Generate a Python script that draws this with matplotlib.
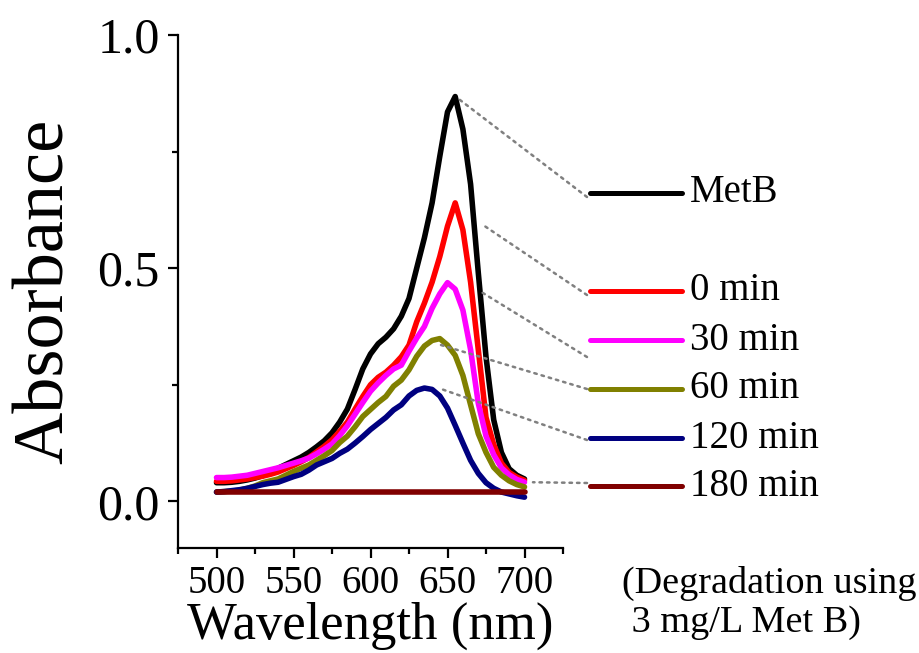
import numpy as np
import matplotlib
matplotlib.use("Agg")
from matplotlib import pyplot as plt
from matplotlib.lines import Line2D
from matplotlib.ticker import MultipleLocator, FormatStrFormatter

plt.rcParams["font.family"] = ["Liberation Serif", "DejaVu Serif"]

# wavelengths (nm) shared by the measured spectra
wavelength = [500, 505, 510, 515, 520, 525, 530, 535, 540, 545,
              550, 555, 560, 565, 570, 575, 580, 585, 590, 595,
              600, 605, 610, 615, 620, 625, 630, 635, 640, 645,
              650, 655, 660, 665, 670, 675, 680, 685, 690, 695, 700]

metb = [0.040, 0.040, 0.041, 0.043, 0.046, 0.050, 0.055, 0.062, 0.071, 0.079,
        0.087, 0.095, 0.105, 0.117, 0.130, 0.147, 0.170, 0.198, 0.240, 0.284,
        0.316, 0.338, 0.352, 0.370, 0.397, 0.435, 0.500, 0.565, 0.640, 0.740,
        0.835, 0.868, 0.798, 0.680, 0.490, 0.310, 0.175, 0.105, 0.070, 0.056, 0.048]

min0 = [0.043, 0.043, 0.044, 0.046, 0.048, 0.051, 0.054, 0.058, 0.063, 0.070,
        0.077, 0.085, 0.094, 0.106, 0.118, 0.132, 0.150, 0.170, 0.198, 0.225,
        0.250, 0.266, 0.277, 0.292, 0.310, 0.335, 0.385, 0.425, 0.470, 0.525,
        0.590, 0.640, 0.582, 0.470, 0.325, 0.180, 0.122, 0.082, 0.062, 0.052, 0.045]

min30 = [0.051, 0.051, 0.052, 0.054, 0.056, 0.060, 0.064, 0.068, 0.072, 0.077,
         0.082, 0.087, 0.093, 0.102, 0.112, 0.123, 0.141, 0.162, 0.187, 0.212,
         0.236, 0.254, 0.270, 0.284, 0.292, 0.322, 0.350, 0.375, 0.414, 0.445,
         0.469, 0.455, 0.410, 0.325, 0.210, 0.140, 0.100, 0.072, 0.057, 0.047, 0.041]

min60 = [0.020, 0.021, 0.022, 0.024, 0.028, 0.033, 0.040, 0.044, 0.048, 0.056,
         0.064, 0.071, 0.078, 0.088, 0.098, 0.109, 0.126, 0.140, 0.160, 0.182,
         0.197, 0.212, 0.225, 0.247, 0.260, 0.282, 0.311, 0.333, 0.345, 0.349,
         0.335, 0.313, 0.270, 0.207, 0.145, 0.105, 0.073, 0.056, 0.044, 0.036, 0.031]

min120 = [0.020, 0.021, 0.023, 0.025, 0.028, 0.032, 0.036, 0.039, 0.041, 0.047,
          0.053, 0.058, 0.067, 0.078, 0.085, 0.092, 0.103, 0.112, 0.125, 0.139,
          0.154, 0.167, 0.180, 0.196, 0.207, 0.226, 0.238, 0.243, 0.240, 0.226,
          0.200, 0.163, 0.125, 0.088, 0.060, 0.040, 0.028, 0.020, 0.016, 0.012, 0.009]

# 180 min is flat
wavelength_180 = [500, 550, 600, 650, 700]
min180 = [0.020, 0.020, 0.020, 0.020, 0.020]

labels = ["MetB", "0 min", "30 min", "60 min", "120 min", "180 min"]
colors = ["black", "#ff0000", "#ff00ff", "#808000", "#000080", "#800000"]

W, H = 920, 653
fig = plt.figure(figsize=(W / 100, H / 100), dpi=100)
ax = fig.add_axes([178 / W, 1 - 548 / H, (563 - 178) / W, (548 - 35) / H])

series = [(wavelength, metb), (wavelength, min0), (wavelength, min30),
          (wavelength, min60), (wavelength, min120), (wavelength_180, min180)]
for (x, y), c in zip(series, colors):
    ax.plot(x, y, color=c, lw=4.0, solid_capstyle="round", solid_joinstyle="round")

ax.set_xlim(475, 725)
ax.set_ylim(-0.1, 1.0)
ax.xaxis.set_major_locator(MultipleLocator(50))
ax.xaxis.set_minor_locator(MultipleLocator(25))
ax.yaxis.set_major_locator(MultipleLocator(0.5))
ax.yaxis.set_minor_locator(MultipleLocator(0.25))
ax.yaxis.set_major_formatter(FormatStrFormatter("%.1f"))
ax.set_xticks([500, 550, 600, 650, 700])

for s in ["top", "right"]:
    ax.spines[s].set_visible(False)
for s in ["left", "bottom"]:
    ax.spines[s].set_linewidth(1.6)
ax.tick_params(which="both", direction="out", width=1.6)
ax.tick_params(which="major", length=7)
ax.tick_params(which="minor", length=4)
ax.tick_params(axis="x", which="major", labelsize=28, pad=5)
ax.tick_params(axis="y", which="major", labelsize=36, pad=6)

ax.set_xlabel("Wavelength (nm)", fontsize=38, labelpad=0)
ax.set_ylabel("Absorbance", fontsize=52, labelpad=14)

# hand-drawn legend
legend_y = [193, 291, 340, 389, 438, 486]
for lab, c, ly in zip(labels, colors, legend_y):
    fig.add_artist(Line2D([590 / W, 682 / W], [1 - ly / H, 1 - ly / H],
                          transform=fig.transFigure, color=c, lw=3.6,
                          solid_capstyle="round"))
    fig.text(690 / W, 1 - ly / H, lab, fontsize=28, va="center", ha="left")

# dotted leaders from curves to legend entries
starts = [(656, 0.866), (672, 0.595), (672.4, 0.448), (645, 0.336), (645, 0.242), (705.5, 0.041)]
ends = [197, 295, 357, 389, 440, 483]
for (sx, sy), ey in zip(starts, ends):
    ax.annotate("", xy=(sx, sy), xycoords="data",
                xytext=(587 / W, 1 - ey / H), textcoords="figure fraction",
                arrowprops=dict(arrowstyle="-", linestyle=(0, (1, 2)), color="#808080",
                                lw=1.8, shrinkA=0, shrinkB=0),
                annotation_clip=False)

fig.text(622 / W, 1 - 593 / H, "(Degradation using", fontsize=27.5, ha="left", va="baseline")
fig.text(622 / W, 1 - 632 / H, " 3 mg/L Met B)", fontsize=27.5, ha="left", va="baseline")

fig.savefig("out.png", dpi=100)
